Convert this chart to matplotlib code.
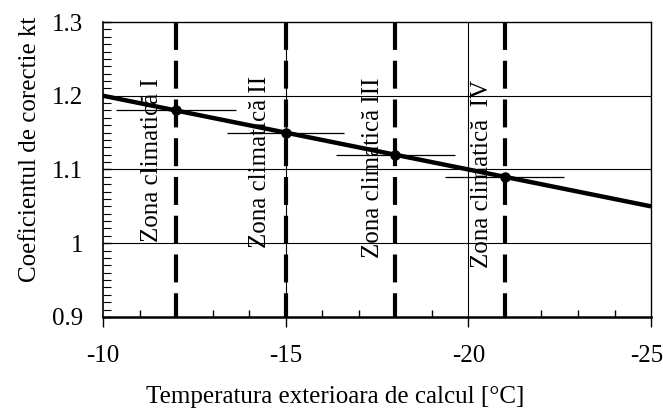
import matplotlib
matplotlib.use('Agg')
import matplotlib.pyplot as plt
import matplotlib.transforms as mtransforms
from matplotlib.ticker import MultipleLocator, FixedLocator, FixedFormatter

plt.rcParams['font.family'] = ['Liberation Serif', 'DejaVu Serif']
plt.rcParams['axes.unicode_minus'] = False

# data
line_x = [-10, -25]
line_y = [1.2, 1.05]
zone_x = [-12, -15, -18, -21]
zone_y = [1.18, 1.15, 1.12, 1.09]
zone_xerr = [1.65, 1.6, 1.63, 1.63]
zone_labels = ['Zona climatică I', 'Zona climatică II', 'Zona climatică III', 'Zona climatică  IV']
zone_text_x = [-11.34, -14.3, -17.4, -20.36]
zone_text_y = [1.002, 0.994, 0.980, 0.966]
y_ticks = [0.9, 1.0, 1.1, 1.2, 1.3]
y_ticklabels = ['0.9', '1', '1.1', '1.2', '1.3']
x_ticks = [-10, -15, -20, -25]
x_ticklabels = ['-10', '-15', '-20', '-25']

fs = 18
fig = plt.figure(figsize=(6.63, 4.12), dpi=100)
ax = fig.add_axes([0.1554, 0.2306, 0.982 - 0.1554, 0.9466 - 0.2306])

ax.set_xlim(-10, -25)
ax.set_ylim(0.9, 1.3)

# grid
for yv in [1.0, 1.1, 1.2]:
    ax.axhline(yv, color='black', lw=0.8, zorder=1)
for xv in [-15, -20]:
    ax.axvline(xv, color='black', lw=0.8, zorder=1)

# dashed zone lines, drawn top to bottom
for xv in zone_x:
    ax.plot([xv, xv], [1.3, 0.9], color='black', lw=3, linestyle=(0, (6.7, 2.6)),
            zorder=2, dash_capstyle='butt', clip_on=False)

# error bars
ax.errorbar(zone_x, zone_y, xerr=zone_xerr, fmt='none', ecolor='black',
            elinewidth=0.9, capsize=0, zorder=3)

# main line
ax.plot(line_x, line_y, color='black', lw=3.2, zorder=4, solid_capstyle='butt')
ax.plot(zone_x, zone_y, 'o', color='black', ms=6.5, zorder=5)

for tx, ty, lab in zip(zone_text_x, zone_text_y, zone_labels):
    ax.text(tx, ty, lab, rotation=90, ha='center', va='bottom', fontsize=fs, zorder=6)

ax.xaxis.set_major_locator(FixedLocator(x_ticks))
ax.xaxis.set_major_formatter(FixedFormatter(x_ticklabels))
ax.xaxis.set_minor_locator(MultipleLocator(1))
ax.yaxis.set_major_locator(FixedLocator(y_ticks))
ax.yaxis.set_major_formatter(FixedFormatter(y_ticklabels))
ax.yaxis.set_minor_locator(MultipleLocator(0.01))

ax.tick_params(axis='x', which='major', direction='out', length=7, width=1, labelsize=fs, pad=13)
ax.tick_params(axis='x', which='minor', direction='in', length=5, width=1)
ax.tick_params(axis='y', which='major', direction='in', length=6, width=1, labelsize=fs, pad=14)
ax.tick_params(axis='y', which='minor', direction='in', length=6, width=0.8)

# last x tick label sits a bit to the left so it fits in the figure
last = ax.xaxis.get_majorticklabels()[-1]
last.set_transform(last.get_transform() + mtransforms.ScaledTranslation(-4 / 100, 0, fig.dpi_scale_trans))

ax.spines['bottom'].set_linewidth(1.8)
ax.spines['left'].set_linewidth(1.2)
ax.spines['top'].set_linewidth(1.0)
ax.spines['right'].set_linewidth(1.0)

ax.set_xlabel('Temperatura exterioara de calcul [°C]', fontsize=fs)
ax.set_ylabel('Coeficientul de corectie kt', fontsize=fs)
ax.xaxis.set_label_coords(0.423, -0.235)
ax.yaxis.set_label_coords(-0.114, 0.569)

fig.savefig('out.png', dpi=100)
